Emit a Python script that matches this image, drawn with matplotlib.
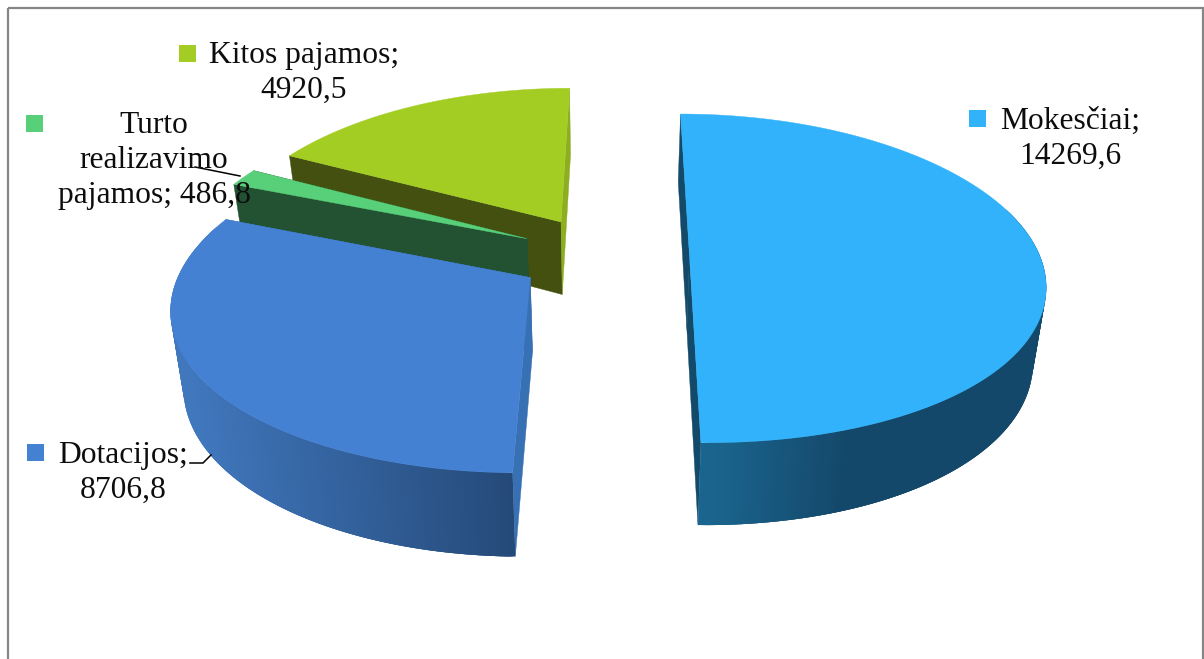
#!/usr/bin/env python3
import matplotlib
matplotlib.use('Agg')
import matplotlib.pyplot as plt
import matplotlib.colors as mcolors
from matplotlib.collections import PolyCollection
from matplotlib.patches import Rectangle
import numpy as np

# Chart data
categories = ['Mokesčiai', 'Dotacijos', 'Turto realizavimo pajamos', 'Kitos pajamos']
values = [14269.6, 8706.8, 486.8, 4920.5]

# How each label breaks over lines, the last line holds the text up to the value
label_lines = [['Mokesčiai;'], ['Dotacijos;'], ['Turto', 'realizavimo', 'pajamos;'], ['Kitos pajamos;']]
value_on_own_line = [True, True, False, True]

top_colors = ['#31B2FA', '#4581D3', '#58D07A', '#A4CD24']
start_cut_colors = ['#134A69', '#3870B4', '#235232', '#44500F']
end_cut_colors = ['#134A69', '#3870B4', '#235232', '#8CAE20']
# rim colour runs from rim_a at screen x rim_x[0] to rim_b at rim_x[1]
rim_a = ['#1B6892', '#254A79', '#235232', '#44500F']
rim_b = ['#14486A', '#4077BD', '#235232', '#44500F']
rim_x = [(702, 850), (512, 190), (0, 1), (0, 1)]

# Layout of the pie, in pixels of the 1204x659 picture
CX, CY = 603, 255
RX, RY = 350, 161
EXPLODE = 0.247
DEPTH_X, DEPTH_Y, DEPTH = 0.97, 1.045, 74

key_boxes = [(969, 110), (27, 444), (26, 115), (179, 45)]
label_pos = [(1070, 129), (123, 463), (154, 133), (304, 63)]
LINE_H = 35


def project(x, y):
    """Perspective of the top plane: y > 0 is further from the viewer"""
    wx = 1 + 0.16 * y
    wy = 1 + 0.14 * y
    x = x + 0.01 * y + 0.015 * np.clip(-y, 0, None) ** 2
    x = np.where(x < 0, x * 0.985, x)
    return CX + RX * x / wx, CY - RY * y / wy


def drop(sx, sy):
    """Move a point of the top plane onto the bottom plane"""
    return CX + (sx - CX) * DEPTH_X, CY + (sy - CY) * DEPTH_Y + DEPTH


def fmt(v):
    return f'{v:.1f}'.replace('.', ',')


fig = plt.figure(figsize=(12.04, 6.59), dpi=100)
ax = fig.add_axes([0, 0, 1, 1])
ax.set_xlim(0, 1204)
ax.set_ylim(659, 0)
ax.axis('off')

# Chart frame, its bottom edge runs off the picture
ax.add_patch(Rectangle((8, 8), 1195, 700, fill=False, edgecolor='#868686', linewidth=1.6, zorder=0))

total = sum(values)
spans = np.array(values) / total * 360
starts = np.concatenate([[0], np.cumsum(spans)[:-1]])

# Far slices first, so nearer ones cover them
for i in [3, 2, 1, 0]:
    t0, span = starts[i], spans[i]
    mid = np.radians(t0 + span / 2)
    ox, oy = EXPLODE * np.sin(mid), EXPLODE * np.cos(mid)
    theta = np.radians(np.linspace(t0, t0 + span, 300))
    tx, ty = project(ox + np.sin(theta), oy + np.cos(theta))
    bx, by = drop(tx, ty)
    apex_x, apex_y = project(ox, oy)
    apex_bx, apex_by = drop(apex_x, apex_y)
    z = 10 + [4, 3, 2, 1][i] * 3

    # Cut faces
    ax.fill([tx[0], apex_x, apex_bx, bx[0]], [ty[0], apex_y, apex_by, by[0]],
            color=start_cut_colors[i], lw=0.3, zorder=z)
    ax.fill([tx[-1], apex_x, apex_bx, bx[-1]], [ty[-1], apex_y, apex_by, by[-1]],
            color=end_cut_colors[i], lw=0.3, zorder=z)

    # Rim, only the part that faces the viewer, shaded along screen x;
    # the strips overlap so no seams show
    col_a = np.array(mcolors.to_rgb(rim_a[i]))
    col_b = np.array(mcolors.to_rgb(rim_b[i]))
    x_a, x_b = rim_x[i]
    quads, shades = [], []
    step = 3
    for k in range(0, len(theta) - step):
        if np.cos(theta[k]) > 0.3:
            continue
        j = k + step
        quads.append([(tx[k], ty[k]), (tx[j], ty[j]), (bx[j], by[j]), (bx[k], by[k])])
        f = np.clip((tx[k] - x_a) / (x_b - x_a), 0, 1)
        shades.append(col_a + (col_b - col_a) * f)
    if quads:
        ax.add_collection(PolyCollection(quads, facecolors=shades, edgecolors='none', zorder=z + 0.1))

    # Top surface
    ax.fill(np.r_[apex_x, tx], np.r_[apex_y, ty], color=top_colors[i], lw=0.3, zorder=z + 0.2)

# Leader lines
ax.plot([195, 240], [167, 176], color='black', lw=1.1, zorder=30)
ax.plot([190, 203, 211], [463, 463, 455], color='black', lw=1.1, zorder=30)

# Data labels with their colour keys
font = dict(family='Liberation Serif', fontsize=22.7, color='#0d0d0d', ha='center', va='baseline', zorder=31)
for i, name in enumerate(categories):
    ax.add_patch(Rectangle(key_boxes[i], 17, 17, facecolor=top_colors[i], edgecolor='none', zorder=31))
    lines = list(label_lines[i])
    if value_on_own_line[i]:
        lines.append(fmt(values[i]))
    else:
        lines[-1] += ' ' + fmt(values[i])
    x, y = label_pos[i]
    for n, line in enumerate(lines):
        ax.text(x, y + n * LINE_H, line, **font)

fig.savefig('out.png', dpi=100)
print("Graph saved to out.png")
